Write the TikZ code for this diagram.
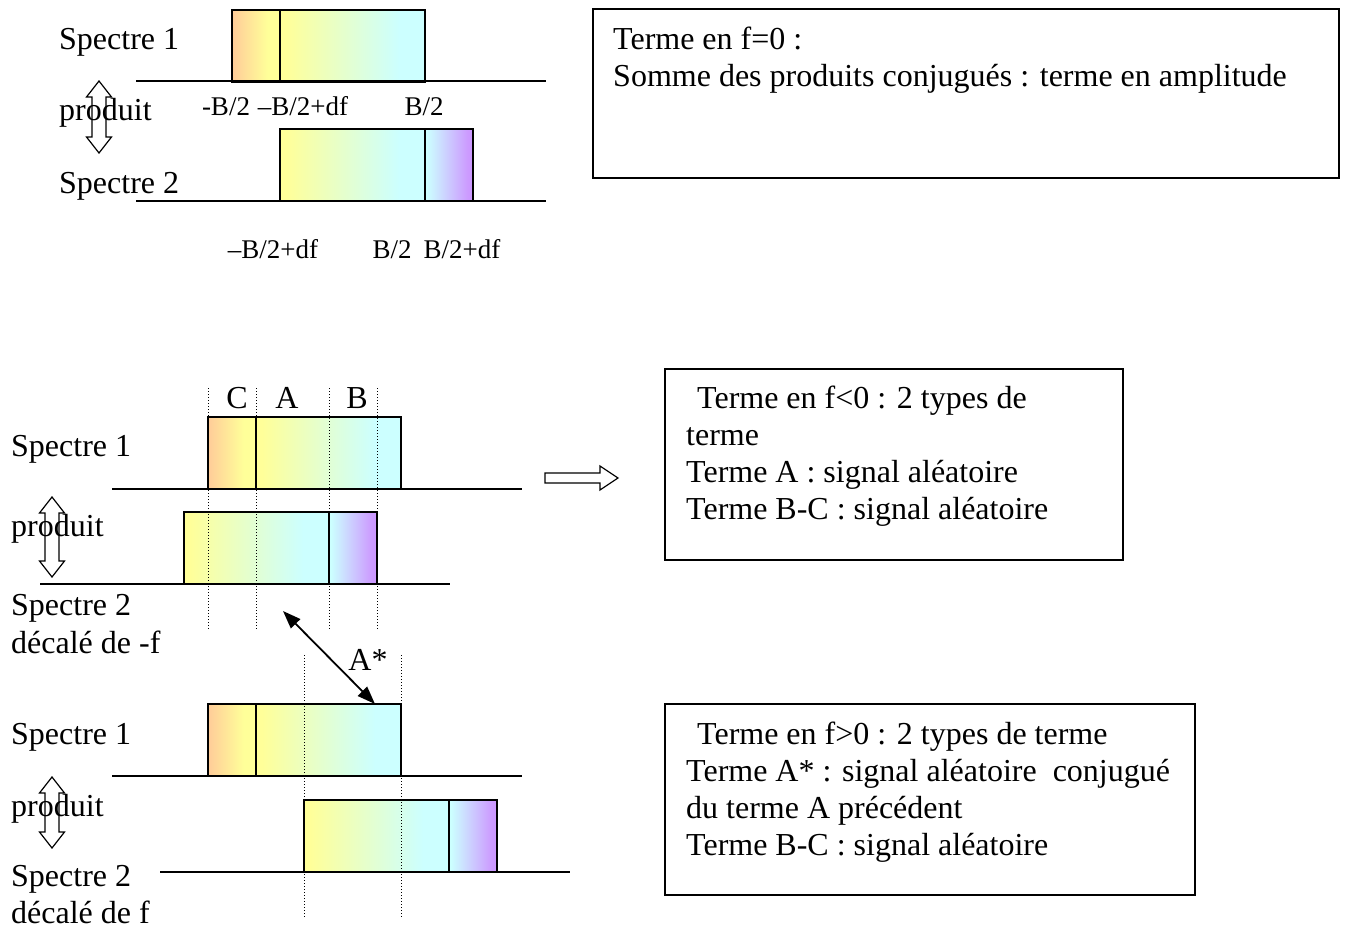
\documentclass[tikz,border=0pt]{standalone}
\usepackage{fontspec}
\setmainfont{Liberation Serif}
\usepackage{tikz}
\usetikzlibrary{positioning,arrows.meta}
\definecolor{peach}{HTML}{FFCC99}
\definecolor{lemon}{HTML}{FFFF99}
\definecolor{aqua}{HTML}{CCFFFF}
\definecolor{lilac}{HTML}{CC99FF}
\pgfdeclarehorizontalshading{mainband}{100bp}{color(0bp)=(lemon); color(27bp)=(lemon);
  color(66bp)=(aqua); color(100bp)=(aqua)}
\pgfdeclarehorizontalshading{lowband}{100bp}{color(0bp)=(peach); color(25bp)=(peach);
  color(62bp)=(lemon); color(100bp)=(lemon)}
\pgfdeclarehorizontalshading{highband}{100bp}{color(0bp)=(aqua); color(27bp)=(aqua);
  color(70bp)=(lilac); color(100bp)=(lilac)}

% spectre 1 : bande orange + bande principale ; spectre 2 : bande principale + bande violette
\newcommand{\specone}[2]{%
  \draw[band,shading=lowband] (#1,#2) rectangle ++(48,72);
  \draw[band,shading=mainband] ({#1+48},#2) rectangle ++(145,72);}
\newcommand{\spectwo}[2]{%
  \draw[band,shading=mainband] (#1,#2) rectangle ++(145,72);
  \draw[band,shading=highband] ({#1+145},#2) rectangle ++(48,72);}
% fleche creuse verticale a deux pointes
\newcommand{\updown}[3]{%
  \draw[hollow] (#1,#2) -- ({#1+12.5},{#2+16}) -- ({#1+7},{#2+16}) -- ({#1+7},{#3-16})
    -- ({#1+12.5},{#3-16}) -- (#1,#3) -- ({#1-12.5},{#3-16}) -- ({#1-7},{#3-16})
    -- ({#1-7},{#2+16}) -- ({#1-12.5},{#2+16}) -- cycle;}

\tikzset{
  lbl/.style={font=\fontsize{32}{37}\selectfont,inner sep=0pt,anchor=base west},
  tick/.style={font=\fontsize{27}{30}\selectfont,inner sep=0pt,anchor=base},
  band/.style={draw=black,line width=2pt},
  axis/.style={line width=1.8pt},
  guide/.style={dotted,line width=1pt},
  frame/.style={draw,line width=1.4pt},
  hollow/.style={line width=1.2pt,line join=miter},
  txt/.style={font=\fontsize{32}{37}\selectfont,inner sep=0pt,anchor=north west,align=left},
}

\begin{document}
\begin{tikzpicture}[x=1pt,y=-1pt]
  \useasboundingbox (0,0) rectangle (1346,929);

  % ---- f = 0
  \specone{232}{10}
  \spectwo{280}{129}
  \draw[axis] (136,81) -- (546,81);
  \draw[axis] (136,201) -- (546,201);
  \node[lbl] (s1top) at (59,49) {Spectre 1};
  \node[lbl] (prodtop) at (59,120) {produit};
  \node[lbl] (s2top) at (59,193) {Spectre 2};
  \updown{99}{81}{153}
  \node[tick] (lo1) at (226,115) {-B/2};
  \node[tick] (lodf1) at (303,115) {--B/2+df};
  \node[tick] (hi1) at (424,115) {B/2};
  \node[tick] (lodf2) at (273,258) {--B/2+df};
  \node[tick] (hi2) at (392,258) {B/2};
  \node[tick] (hidf2) at (462,258) {B/2+df};

  \draw[frame] (593,9) rectangle (1339,178);
  \node[txt] (zero) at (613,27) {Terme en f=0 :\\Somme des produits conjugués : terme en amplitude};

  % ---- f < 0
  \specone{208}{417}
  \spectwo{184}{512}
  \draw[axis] (112,489) -- (522,489);
  \draw[axis] (40,584) -- (450,584);
  \foreach \x in {208,256,329,377}
    \draw[guide] (\x,388) -- (\x,630);
  \node[lbl,anchor=base] (zc) at (237,408) {C};
  \node[lbl,anchor=base] (za) at (287,408) {A};
  \node[lbl,anchor=base] (zb) at (357,408) {B};
  \node[lbl] (s1neg) at (11,456) {Spectre 1};
  \node[lbl] (prodneg) at (11,536) {produit};
  \node[lbl] (s2neg) at (11,615) {Spectre 2};
  \node[lbl] (shneg) at (11,653) {décalé de -f};
  \updown{52}{497}{577}
  \draw[hollow] (545,473) -- (600,473) -- (600,466) -- (618,478) -- (600,490) -- (600,483) -- (545,483) -- cycle;

  \draw[frame] (665,369) rectangle (1123,560);
  \node[txt] (neg) at (686,386) {\hspace*{11pt}Terme en f<0 : 2 types de\\terme\\Terme A : signal aléatoire\\Terme B-C : signal aléatoire};

  % ---- lien A / A*
  \coordinate (astart) at (283,611);
  \coordinate (aend) at (375,704);
  \draw[{Triangle[length=18pt,width=13pt]}-{Triangle[length=18pt,width=13pt]},line width=1.8pt] (astart) -- (aend);
  \node[lbl,anchor=base] (zastar) at (368,670) {A*};

  % ---- f > 0
  \specone{208}{704}
  \spectwo{304}{800}
  \draw[axis] (112,776) -- (522,776);
  \draw[axis] (160,872) -- (570,872);
  \foreach \x in {304,401}
    \draw[guide] (\x,655) -- (\x,918);
  \node[lbl] (s1pos) at (11,744) {Spectre 1};
  \node[lbl] (prodpos) at (11,816) {produit};
  \node[lbl] (s2pos) at (11,886) {Spectre 2};
  \node[lbl] (shpos) at (11,923) {décalé de f};
  \updown{52}{777}{848}

  \draw[frame] (665,704) rectangle (1195,895);
  \node[txt] (pos) at (686,722) {\hspace*{11pt}Terme en f>0 : 2 types de terme\\Terme A* : signal aléatoire\ \ conjugué\\du terme A précédent\\Terme B-C : signal aléatoire};
\end{tikzpicture}
\end{document}
